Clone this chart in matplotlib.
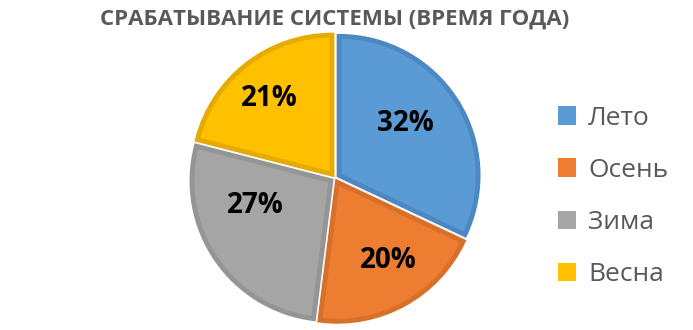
import numpy as np
import matplotlib
matplotlib.use("Agg")
import matplotlib.pyplot as plt

# DATA
seasons = ["Лето", "Осень", "Зима", "Весна"]
shares = [32, 20, 27, 21]
title = "СРАБАТЫВАНИЕ СИСТЕМЫ (ВРЕМЯ ГОДА)"

# STYLE
fills = ["#5B9BD5", "#ED7D31", "#A5A5A5", "#FFC000"]
edges = ["#4D88C2", "#D6702A", "#959595", "#E5AB00"]
text_grey = "#595959"
# nudges of the percent labels (pie units), like Excel's best fit
label_nudge = [(-0.065, 0.03), (0.058, 0.0), (-0.015, 0.18), (-0.06, 0.035)]

plt.rcParams["font.family"] = ["Open Sans", "DejaVu Sans"]

W, H = 693, 330
fig = plt.figure(figsize=(W / 100, H / 100), dpi=100)

# pie axes: centre at (335, 178) px, 1 unit = 139 px
cx, cy, scale = 335, 178, 139
half = 1.1
ax = fig.add_axes([(cx - half * scale) / W, (H - cy - half * scale) / H,
                   2 * half * scale / W, 2 * half * scale / H])

wedges, texts, autotexts = ax.pie(
    shares, colors=fills, startangle=90, counterclock=False,
    explode=[0.035] * 4, autopct="%d%%", pctdistance=0.64,
    wedgeprops=dict(linewidth=3.5, joinstyle="miter"),
    textprops=dict(fontsize=20, fontweight="bold", color="black"))
for w, ec in zip(wedges, edges):
    w.set_edgecolor(ec)
for t, (dx, dy) in zip(autotexts, label_nudge):
    x, y = t.get_position()
    t.set_position((x + dx, y + dy))
ax.set_xlim(-half, half)
ax.set_ylim(-half, half)
ax.set_aspect("equal")
ax.axis("off")

fig.text(cx / W, 1 - 19 / H, title, ha="center", va="center",
         fontsize=16, fontweight="bold", color=text_grey)

# legend
leg = fig.legend(wedges, seasons, loc="upper left",
                 bbox_to_anchor=(534 / W, 1 - 82 / H), frameon=False,
                 fontsize=19, labelcolor=text_grey, handlelength=0.7,
                 handleheight=0.7, handletextpad=0.45, labelspacing=1.03)
for h, c in zip(leg.legend_handles, fills):
    h.set_edgecolor(c)
    h.set_linewidth(0)

fig.savefig("out.png", dpi=100)
